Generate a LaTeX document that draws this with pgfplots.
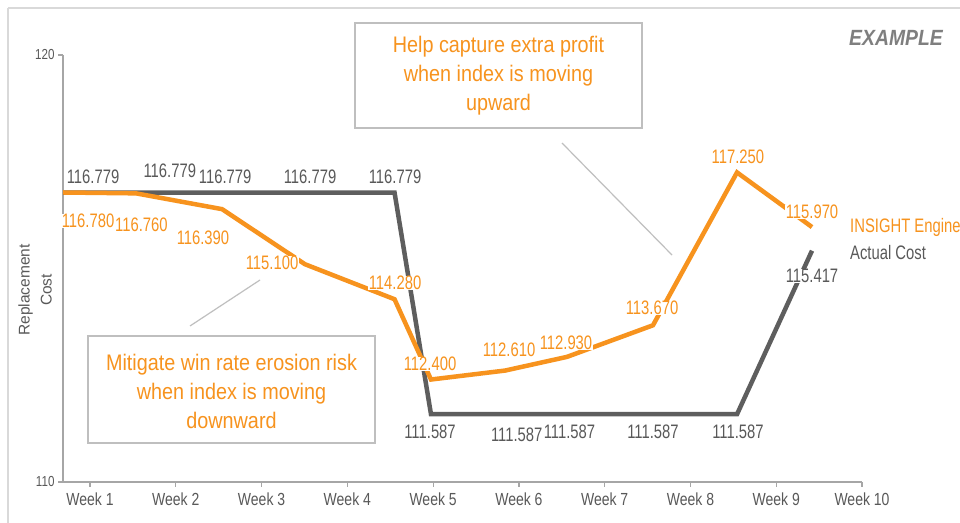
\documentclass[border=0pt]{standalone}
\usepackage{pgfplots}
\pgfplotsset{compat=1.18}
\usepackage{fontspec}
\setmainfont{Liberation Sans}
\newfontfamily\labf[FakeStretch=0.76]{Liberation Sans}
\newfontfamily\annf[FakeStretch=0.88]{Liberation Sans}
\newfontfamily\weekf[FakeStretch=0.8]{Liberation Sans}
\definecolor{orng}{RGB}{247,147,30}
\definecolor{dgray}{RGB}{94,94,94}
\definecolor{tgray}{RGB}{89,89,89}
\definecolor{agray}{RGB}{166,166,166}
\definecolor{bgray}{RGB}{191,191,191}
\definecolor{fgray}{RGB}{217,217,217}
\definecolor{egray}{RGB}{127,127,127}
\tikzset{label node/.style={fill=white, inner sep=0.5bp, font=\labf\fontsize{19.5bp}{22bp}\selectfont}}
\begin{document}
\begin{tikzpicture}
\useasboundingbox (0,0) rectangle (960bp,523bp);
\clip (0,0) rectangle (960bp,523bp);
\fill[white] (0,0) rectangle (960bp,523bp);
\draw[fgray, line width=1.5bp] (8bp,515bp) -- (8bp,-10bp);
\draw[fgray, line width=1.5bp] (8bp,515bp) -- (970bp,515bp);
\begin{axis}[
  at={(63bp,41bp)}, anchor=south west,
  scale only axis, width=799bp, height=427bp,
  xmin=0.685, xmax=10, ymin=110, ymax=120,
  axis x line*=bottom, axis y line*=left,
  axis line style={agray, line width=1.2bp},
  xtick={1,...,10},
  xticklabels={Week 1,Week 2,Week 3,Week 4,Week 5,Week 6,Week 7,Week 8,Week 9,Week 10},
  ytick={110,120}, yticklabels={110,120},
  tick align=outside, major tick length=5bp,
  tick style={agray, line width=1.2bp},
  xticklabel style={font=\weekf\fontsize{17.5bp}{20bp}\selectfont, text=tgray, yshift=-2bp},
  yticklabel style={font=\weekf\fontsize{14.5bp}{16bp}\selectfont, text=tgray},
  clip=false,
]
\addplot[dgray, line width=4.5bp, line join=miter] coordinates {
(0.685,116.779) (1.536,116.779) (2.539,116.779) (3.506,116.779) (4.55,116.779)
(4.975,111.587) (5.84,111.587) (6.56,111.587) (7.563,111.587) (8.543,111.587) (9.417,115.417)};
\addplot[orng, line width=4.5bp, line join=miter] coordinates {
(0.685,116.780) (1.536,116.760) (2.539,116.390) (3.506,115.100) (4.55,114.280)
(4.975,112.400) (5.84,112.610) (6.56,112.930) (7.563,113.670) (8.543,117.250) (9.417,115.970)};
% gray labels
\node[label node, text=tgray] at (axis cs:1.035,117.143) {116.779};
\node[label node, text=tgray] at (axis cs:1.930,117.283) {116.779};
\node[label node, text=tgray] at (axis cs:2.575,117.143) {116.779};
\node[label node, text=tgray] at (axis cs:3.565,117.143) {116.779};
\node[label node, text=tgray] at (axis cs:4.556,117.143) {116.779};
\node[label node, text=tgray] at (axis cs:4.964,111.171) {111.587};
\node[label node, text=tgray] at (axis cs:5.975,111.101) {111.587};
\node[label node, text=tgray] at (axis cs:6.590,111.171) {111.587};
\node[label node, text=tgray] at (axis cs:7.563,111.171) {111.587};
\node[label node, text=tgray] at (axis cs:8.554,111.171) {111.587};
\node[label node, text=tgray] at (axis cs:9.417,114.824) {115.417};
% orange labels
\node[label node, text=orng] at (axis cs:0.977,116.112) {116.780};
\node[label node, text=orng] at (axis cs:1.600,116.019) {116.760};
\node[label node, text=orng] at (axis cs:2.317,115.714) {116.390};
\node[label node, text=orng] at (axis cs:3.122,115.129) {115.100};
\node[label node, text=orng] at (axis cs:4.556,114.660) {114.280};
\node[label node, text=orng] at (axis cs:4.964,112.763) {112.400};
\node[label node, text=orng] at (axis cs:5.885,113.091) {112.610};
\node[label node, text=orng] at (axis cs:6.549,113.255) {112.930};
\node[label node, text=orng] at (axis cs:7.552,114.075) {113.670};
\node[label node, text=orng] at (axis cs:8.554,117.611) {117.250};
\node[label node, text=orng] at (axis cs:9.417,116.323) {115.970};
% series names
\node[anchor=west, inner sep=0pt, text=orng, font=\labf\fontsize{19.5bp}{22bp}\selectfont] at (axis cs:9.86,115.972) {INSIGHT Engine};
\node[anchor=west, inner sep=0pt, text=tgray, font=\labf\fontsize{19.5bp}{22bp}\selectfont] at (axis cs:9.86,115.363) {Actual Cost};
\end{axis}
% y label
\node[rotate=90, align=center, text=tgray, font=\fontsize{15.5bp}{22bp}\selectfont] at (35bp,233bp) {Replacement\\Cost};
% annotations
\draw[bgray, line width=1.2bp] (190bp,197bp) -- (260bp,243bp);
\draw[bgray, line width=1.2bp] (562bp,380bp) -- (672bp,268bp);
\draw[bgray, line width=1.3bp, fill=white] (355bp,395bp) rectangle (642bp,500bp);
\node[align=center, text=orng, font=\annf\fontsize{22.5bp}{29bp}\selectfont] at (498.5bp,447.5bp) {Help capture extra profit\\when index is moving\\upward};
\draw[bgray, line width=1.3bp, fill=white] (88bp,80bp) rectangle (375bp,187bp);
\node[align=center, text=orng, font=\annf\fontsize{22.5bp}{29bp}\selectfont] at (231.5bp,132bp) {Mitigate win rate erosion risk\\when index is moving\\downward};
\node[anchor=east, text=egray, font=\annf\bfseries\itshape\fontsize{22bp}{26bp}\selectfont, inner sep=0pt] at (943bp,485bp) {EXAMPLE};
\end{tikzpicture}
\end{document}
